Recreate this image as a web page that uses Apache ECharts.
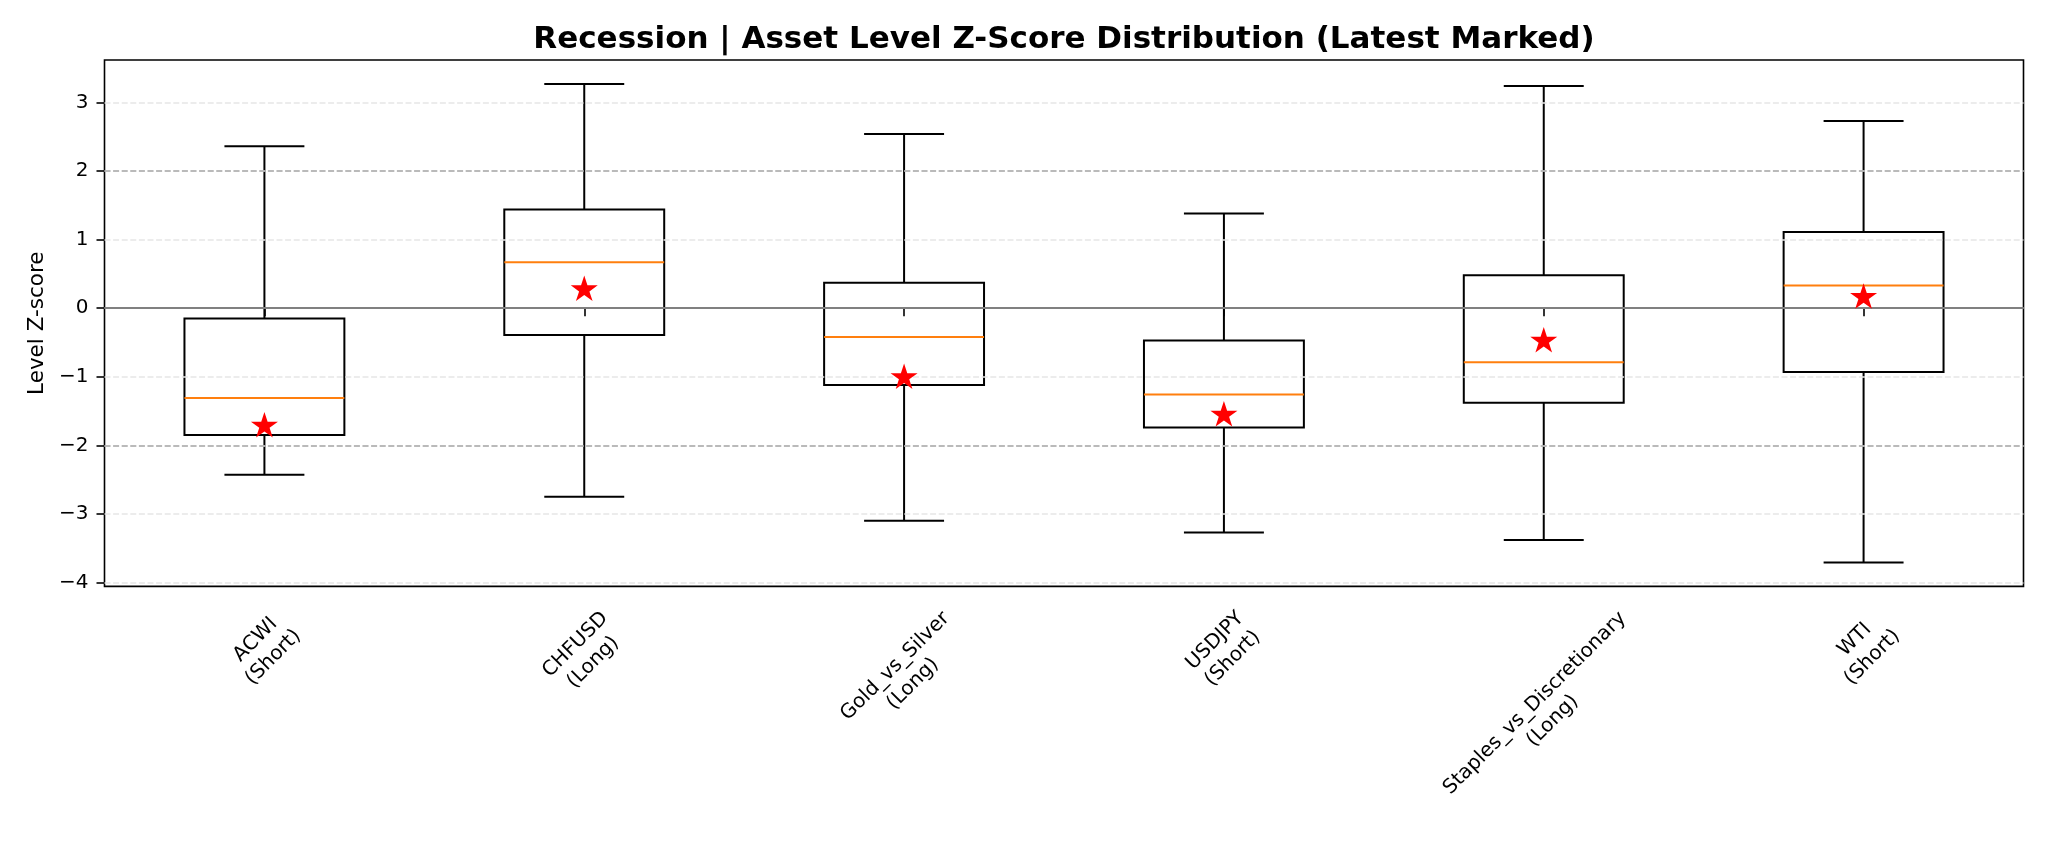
<!DOCTYPE html>
<html><head><meta charset="utf-8">
<script src="https://cdn.jsdelivr.net/npm/echarts@6/dist/echarts.min.js"></script>
<style>html,body{margin:0;padding:0;background:#fff}#c{width:2048px;height:864px}</style>
</head><body><div id="c"></div>
<script>
// ---- data ----
const categories = ['ACWI\n(Short)', 'CHFUSD\n(Long)', 'Gold_vs_Silver\n(Long)', 'USDJPY\n(Short)', 'Staples_vs_Discretionary\n(Long)', 'WTI\n(Short)'];
const whiskerLow  = [-2.43, -2.75, -3.10, -3.27, -3.38, -3.71];
const q1          = [-1.85, -0.39, -1.12, -1.74, -1.38, -0.93];
const median      = [-1.31,  0.67, -0.42, -1.26, -0.79,  0.33];
const q3          = [-0.15,  1.44,  0.37, -0.47,  0.48,  1.11];
const whiskerHigh = [ 2.36,  3.27,  2.54,  1.38,  3.24,  2.73];
const latest      = [-1.72,  0.27, -1.01, -1.56, -0.48,  0.16];
const yTicks = [-4, -3, -2, -1, 0, 1, 2, 3];
const bandLines = [-2, 2];
const zeroLine = [0];
const yMin = -4.057, yMax = 3.619;

// ---- styling helpers ----
const FONT = 'DejaVu Sans';
const LABEL_SIZE = 20, LABEL_LH = 25;
const cv = document.createElement('canvas').getContext('2d');
cv.font = LABEL_SIZE + 'px "' + FONT + '"';
// centre each rotated two-line label under its tick (matplotlib ha=center, rotation=45):
// shift the text block along its own axes so the rotated block hangs centred below the tick
const xAxisData = categories.map(c => {
  const lines = c.split('\n');
  const W = Math.max(...lines.map(l => cv.measureText(l).width));
  const H = lines.length * LABEL_LH;
  const s = 0.25 * (W + H);
  return { value: c, textStyle: { align: 'center', verticalAlign: 'top',
    padding: [Math.max(0, s - H / 2), 2 * s, 0, 0] } };
});

const boxRows = categories.map((c, i) => [i, whiskerLow[i], q1[i], median[i], q3[i], whiskerHigh[i]]);
const starPath = 'path://M0,-1 L0.2245,-0.309 L0.9511,-0.309 L0.3633,0.118 L0.5878,0.809 L0,0.382 L-0.5878,0.809 L-0.3633,0.118 L-0.9511,-0.309 L-0.2245,-0.309 Z';

const chart = echarts.init(document.getElementById('c'), null, { renderer: 'canvas' });
chart.setOption({
  animation: false,
  backgroundColor: '#fff',
  title: {
    text: 'Recession | Asset Level Z-Score Distribution (Latest Marked)',
    left: 1064, top: 22, textAlign: 'center', padding: 0,
    textStyle: { fontFamily: FONT, fontWeight: 'bold', fontSize: 31, color: '#000', lineHeight: 36 }
  },
  grid: { left: 104.5, right: 24.5, top: 60, bottom: 277.6, outerBoundsMode: 'none', containLabel: false,
    show: true, borderColor: '#000', borderWidth: 1.6, backgroundColor: 'transparent' },
  xAxis: {
    type: 'category', data: xAxisData, boundaryGap: true,
    axisLine: { show: false },
    axisTick: { show: true, alignWithLabel: true, length: 8, lineStyle: { color: '#000', width: 1.6 } },
    axisLabel: { interval: 0, rotate: 45, align: 'center', verticalAlign: 'top', margin: 20,
      fontFamily: FONT, fontSize: LABEL_SIZE, lineHeight: LABEL_LH, color: '#000' },
    splitLine: { show: false }
  },
  yAxis: {
    type: 'value', min: yMin, max: yMax,
    name: 'Level Z-score', nameLocation: 'middle', nameRotate: 90, nameGap: 56,
    nameTextStyle: { fontFamily: FONT, fontSize: 21.5, color: '#000' },
    axisLine: { show: false },
    axisTick: { show: true, customValues: yTicks, length: 8, lineStyle: { color: '#000', width: 1.6 } },
    axisLabel: { customValues: yTicks, margin: 16, fontFamily: FONT, fontSize: 20, color: '#000',
      formatter: v => String(v).replace('-', '\u2212') },
    splitLine: { show: false }
  },
  series: [
    {
      type: 'line', data: [], z: 1, silent: true,
      markLine: { symbol: 'none', silent: true, label: { show: false },
        lineStyle: { color: '#e6e6e6', type: [6, 2.6], width: 1.6 },
        data: yTicks.map(v => ({ yAxis: v })) }
    },
    {
      type: 'line', data: [], z: 2, silent: true,
      markLine: { symbol: 'none', silent: true, label: { show: false },
        data: bandLines.map(v => ({ yAxis: v, lineStyle: { color: '#a9a9a9', type: [6, 2.6], width: 1.6 } }))
          .concat(zeroLine.map(v => ({ yAxis: v, lineStyle: { color: '#808080', type: 'solid', width: 2 } }))) }
    },
    {
      type: 'custom', z: 3, data: boxRows, encode: { x: 0, y: [1, 2, 3, 4, 5] },
      renderItem: (params, api) => {
        const i = api.value(0);
        const lo = api.coord([i, api.value(1)]);
        const b1 = api.coord([i, api.value(2)]);
        const md = api.coord([i, api.value(3)]);
        const b3 = api.coord([i, api.value(4)]);
        const hi = api.coord([i, api.value(5)]);
        const bw = api.size([1, 0])[0] * 0.5;
        const cw = bw * 0.5;
        const x = lo[0];
        const ls = { stroke: '#000', lineWidth: 2 };
        return { type: 'group', children: [
          { type: 'line', shape: { x1: x, y1: hi[1], x2: x, y2: b3[1] }, style: ls },
          { type: 'line', shape: { x1: x, y1: b1[1], x2: x, y2: lo[1] }, style: ls },
          { type: 'line', shape: { x1: x - cw / 2, y1: hi[1], x2: x + cw / 2, y2: hi[1] }, style: ls },
          { type: 'line', shape: { x1: x - cw / 2, y1: lo[1], x2: x + cw / 2, y2: lo[1] }, style: ls },
          { type: 'rect', shape: { x: x - bw / 2, y: b3[1], width: bw, height: b1[1] - b3[1] }, style: { stroke: '#000', lineWidth: 2, fill: 'none' } },
          { type: 'line', shape: { x1: x - bw / 2, y1: md[1], x2: x + bw / 2, y2: md[1] }, style: { stroke: '#ff7f0e', lineWidth: 2 } }
        ] };
      }
    },
    {
      type: 'scatter', z: 5, data: latest.map((v, i) => [i, v]),
      symbol: starPath, symbolSize: [27, 25.5], symbolOffset: [0, -1.3],
      itemStyle: { color: '#ff0000', opacity: 1 }
    }
  ]
});
</script></body></html>
